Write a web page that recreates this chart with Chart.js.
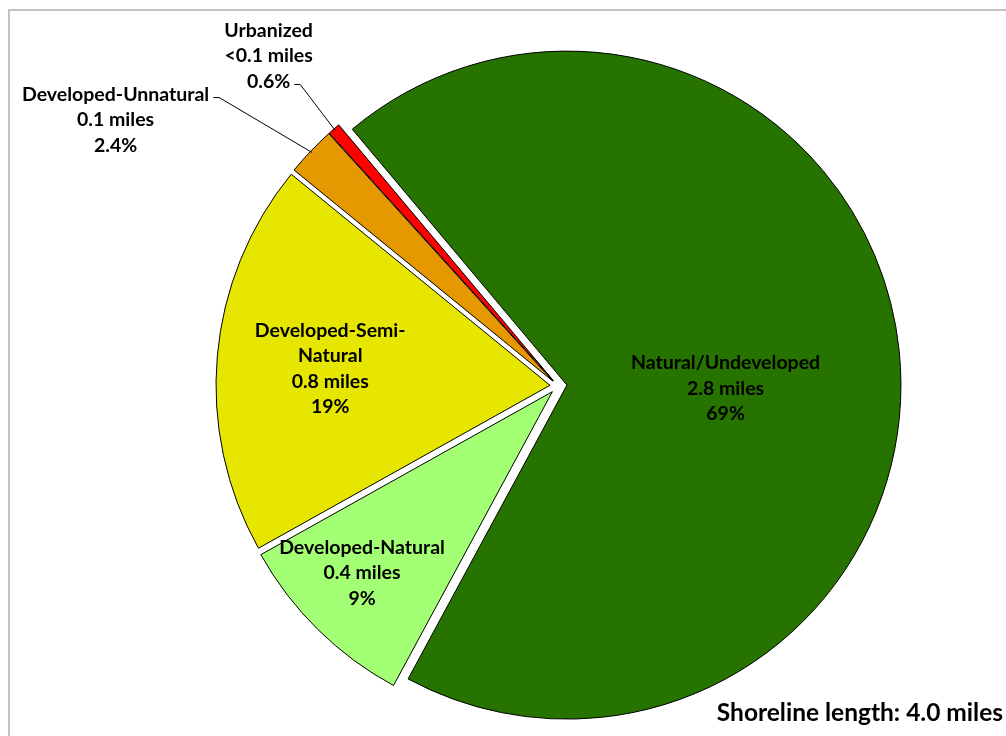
<!DOCTYPE html>
<html>
<head>
<meta charset="utf-8">
<script src="https://cdn.jsdelivr.net/npm/chart.js@4.4.1/dist/chart.umd.min.js"></script>
<style>
  html, body { margin: 0; padding: 0; background: #fff; overflow: hidden; }
  #frame { position: absolute; left: 8px; top: 9px; width: 1100px; height: 800px;
           border-left: 2px solid #c4c4c4; border-top: 2px solid #c4c4c4; }
  #wrap { position: absolute; left: 0; top: 0; width: 1006px; height: 736px; }
</style>
</head>
<body>
<div id="frame"></div>
<div id="wrap"><canvas id="chart" width="1006" height="736"></canvas></div>
<script>
const categories = ['Natural/Undeveloped', 'Developed-Natural', 'Developed-Semi-Natural', 'Developed-Unnatural', 'Urbanized'];
const percents = [69, 9, 19, 2.4, 0.6];
const mileLabels = ['2.8 miles', '0.4 miles', '0.8 miles', '0.1 miles', '<0.1 miles'];
const colors = ['#267300', '#A3FF73', '#E6E600', '#E69800', '#FF0000'];
const footLabel = 'Shoreline length: 4.0 miles';

const LABEL_FONT = 'bold 19.5px Lato';
const LINE_H = 25.5;
const WRAP_W = 215;
const EXPLODE = [9, 8, 8, 7, 7];
// inside labels: fraction of radius and angle nudge (deg); outside: elbow offset + which line the leader hits
const INSIDE = [{ r: 0.475, da: 7 }, { r: 0.787, da: 1.8 }, { r: 0.66, da: -0.7 }, null, null];
const OUTSIDE = [null, null, null, { ex: -93, ey: -55, attach: 0 }, { ex: -35, ey: -46, attach: 2 }];

// push each slice out along its bisector (Excel "explosion")
const explodePlugin = {
  id: 'explode',
  afterDatasetsUpdate(chart) {
    chart.getDatasetMeta(0).data.forEach((arc, i) => {
      const d = EXPLODE[i] || 0;
      const mid = (arc.startAngle + arc.endAngle) / 2;
      arc.x += Math.cos(mid) * d;
      arc.y += Math.sin(mid) * d;
    });
  }
};

function wrapText(ctx, text, maxW) {
  if (ctx.measureText(text).width <= maxW) return [text];
  let cut = -1;
  for (let i = 0; i < text.length; i++) {
    if (text[i] === '-' || text[i] === ' ') {
      if (ctx.measureText(text.slice(0, i + 1)).width <= maxW) cut = i;
    }
  }
  if (cut < 0) return [text];
  return [text.slice(0, cut + 1).trim()].concat(wrapText(ctx, text.slice(cut + 1).trim(), maxW));
}

const labelPlugin = {
  id: 'sliceLabels',
  afterDatasetsDraw(chart) {
    const ctx = chart.ctx;
    ctx.save();
    ctx.font = LABEL_FONT;
    ctx.fillStyle = '#000';
    ctx.textAlign = 'center';
    ctx.textBaseline = 'middle';
    chart.getDatasetMeta(0).data.forEach((arc, i) => {
      const lines = wrapText(ctx, categories[i], WRAP_W).concat([mileLabels[i], percents[i] + '%']);
      const mid = (arc.startAngle + arc.endAngle) / 2;
      const inside = INSIDE[i];
      if (inside) {
        const a = mid + inside.da * Math.PI / 180;
        const r = arc.outerRadius * inside.r;
        const cx = arc.x + Math.cos(a) * r;
        const cy = arc.y + Math.sin(a) * r;
        lines.forEach((t, k) => ctx.fillText(t, cx, cy + (k - (lines.length - 1) / 2) * LINE_H));
        return;
      }
      const out = OUTSIDE[i];
      if (!out) return;
      const ax = arc.x + Math.cos(mid) * (arc.outerRadius - 2);
      const ay = arc.y + Math.sin(mid) * (arc.outerRadius - 2);
      const ex = ax + out.ex, ey = ay + out.ey;
      ctx.strokeStyle = '#000';
      ctx.lineWidth = 1;
      ctx.beginPath();
      ctx.moveTo(ax, ay);
      ctx.lineTo(ex, ey);
      ctx.lineTo(ex - 6, ey);
      ctx.stroke();
      // the attached line ends just left of the stub
      const attachW = ctx.measureText(lines[out.attach]).width;
      const cx = ex - 10 - attachW / 2;
      const cy = ey - 3 - out.attach * LINE_H;
      lines.forEach((t, k) => ctx.fillText(t, cx, cy + k * LINE_H));
    });
    ctx.restore();
  }
};

const footPlugin = {
  id: 'foot',
  afterDraw(chart) {
    const ctx = chart.ctx;
    ctx.save();
    ctx.font = 'bold 24.5px Lato';
    ctx.fillStyle = '#000';
    ctx.textAlign = 'right';
    ctx.textBaseline = 'alphabetic';
    ctx.fillText(footLabel, chart.width - 3, chart.height - 15);
    ctx.restore();
  }
};

new Chart(document.getElementById('chart'), {
  type: 'pie',
  data: {
    labels: categories,
    datasets: [{
      data: percents,
      backgroundColor: colors,
      borderColor: '#000',
      borderWidth: 1,
      radius: 334
    }]
  },
  options: {
    responsive: false,
    animation: false,
    rotation: -40,
    layout: { padding: { left: 110, right: 0, top: 36, bottom: 0 } },
    events: [],
    plugins: {
      legend: { display: false },
      tooltip: { enabled: false }
    }
  },
  plugins: [explodePlugin, labelPlugin, footPlugin]
});
</script>
</body>
</html>
